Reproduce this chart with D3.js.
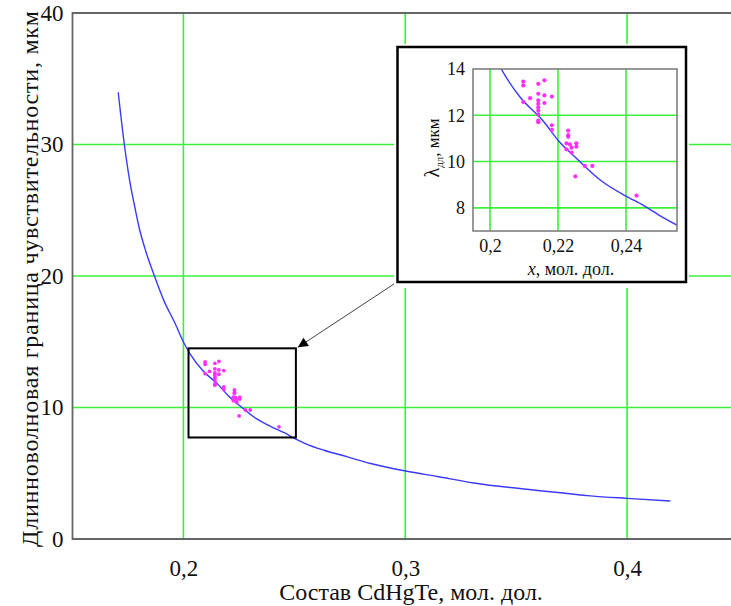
<!DOCTYPE html>
<html>
<head>
<meta charset="utf-8">
<script src="https://cdn.jsdelivr.net/npm/d3@7"></script>
<style>
  body { margin: 0; background: #fff; }
  svg { display: block; }
  text { font-family: "Liberation Serif", "Times New Roman", serif; fill: #111; }
</style>
</head>
<body>
<svg id="chart" width="731" height="606"></svg>
<script>
// curve: x (mole fraction) -> cut-off wavelength, um
const curveX = [0.1706, 0.1734, 0.1756, 0.1779, 0.1801, 0.1831, 0.1869, 0.1914, 0.1959, 0.2007,
  0.2032, 0.2087, 0.2157, 0.2202, 0.2257, 0.2327, 0.2397, 0.2452, 0.2507, 0.2552,
  0.2634, 0.2739, 0.2844, 0.3002, 0.3145, 0.3309, 0.3610, 0.3835, 0.4000, 0.4195];
const curveY = [33.97, 29.96, 27.43, 25.4, 23.63, 21.85, 20.02, 18.05, 16.52, 14.75,
  14.03, 12.81, 11.74, 10.89, 10.1, 9.17, 8.53, 8.1, 7.6, 7.24,
  6.75, 6.25, 5.74, 5.17, 4.75, 4.26, 3.67, 3.28, 3.09, 2.89];

// measured samples
const sampleX = [0.2098, 0.2098, 0.2142, 0.2160, 0.2142, 0.2160, 0.2118, 0.2182, 0.2098, 0.2142,
  0.2142, 0.2160, 0.2142, 0.2142, 0.2142, 0.2142, 0.2142, 0.2182, 0.2182, 0.2230,
  0.2230, 0.2230, 0.2225, 0.2235, 0.2254, 0.2254, 0.2240, 0.2225, 0.2240, 0.2279,
  0.2301, 0.2251, 0.2431];
const sampleY = [13.46, 13.29, 13.36, 13.51, 12.93, 12.86, 12.74, 12.81, 12.57, 12.64,
  12.49, 12.53, 12.34, 12.2, 12.03, 11.77, 11.7, 11.57, 11.37, 11.34,
  11.14, 11.07, 10.79, 10.74, 10.79, 10.64, 10.6, 10.53, 10.39, 9.81,
  9.81, 9.36, 8.53];

const mainXTicks = [0.2, 0.3, 0.4];
const mainYTicks = [0, 10, 20, 30, 40];
const insetXTicks = [0.2, 0.22, 0.24];
const insetYTicks = [8, 10, 12, 14];

// zoom box drawn on the main plot, in data units
const zoomBox = {x0: 0.2023, x1: 0.2507, y0: 7.72, y1: 14.5};

const curve = curveX.map((x, i) => ({x, y: curveY[i]}));
const samples = sampleX.map((x, i) => ({x, y: sampleY[i]}));

const serif = '"Liberation Serif", "Times New Roman", serif';
const comma = d => String(d).replace(".", ",");
const grid = "#3cf03c";
const lineColor = "#3a3aff";
const dotColor = "#ff30ff";

const svg = d3.select("#chart");

// ---------- main plot ----------
const x = d3.scaleLinear().domain([0.15, 0.45]).range([72.5, 738]);
const y = d3.scaleLinear().domain([0, 40]).range([539, 13]);

const main = svg.append("g");

main.append("g")
  .selectAll("line")
  .data(mainXTicks)
  .join("line")
    .attr("x1", d => x(d)).attr("x2", d => x(d))
    .attr("y1", y(0)).attr("y2", y(40))
    .attr("stroke", grid).attr("stroke-width", 1.6);

main.append("g")
  .selectAll("line")
  .data(mainYTicks.filter(d => d > 0 && d < 40))
  .join("line")
    .attr("x1", x(0.15)).attr("x2", x(0.45))
    .attr("y1", d => y(d)).attr("y2", d => y(d))
    .attr("stroke", grid).attr("stroke-width", 1.6);

// frame
main.append("path")
  .attr("d", `M${x(0.45)},${y(40)}H${x(0.15)}V${y(0)}H${x(0.45)}`)
  .attr("fill", "none").attr("stroke", "#666").attr("stroke-width", 1.8);

const line = d3.line().x(d => x(d.x)).y(d => y(d.y)).curve(d3.curveMonotoneX);

main.append("path")
  .datum(curve)
  .attr("d", line)
  .attr("fill", "none").attr("stroke", lineColor).attr("stroke-width", 1.4);

main.append("g")
  .selectAll("circle")
  .data(samples)
  .join("circle")
    .attr("cx", d => x(d.x)).attr("cy", d => y(d.y))
    .attr("r", 1.9).attr("fill", dotColor);

main.append("rect")
  .attr("x", x(zoomBox.x0)).attr("y", y(zoomBox.y1))
  .attr("width", x(zoomBox.x1) - x(zoomBox.x0))
  .attr("height", y(zoomBox.y0) - y(zoomBox.y1))
  .attr("fill", "none").attr("stroke", "#000").attr("stroke-width", 2);

// axes (labels only)
const xAxis = main.append("g")
  .attr("transform", `translate(0,${y(0)})`)
  .call(d3.axisBottom(x).tickValues(mainXTicks).tickSize(0).tickPadding(21).tickFormat(comma));
const yAxis = main.append("g")
  .attr("transform", `translate(${x(0.15)},0)`)
  .call(d3.axisLeft(y).tickValues(mainYTicks).tickSize(0).tickPadding(9).tickFormat(d3.format("d")));
[xAxis, yAxis].forEach(a => {
  a.select(".domain").remove();
  a.attr("font-family", null);
  a.selectAll("text").style("font-family", serif).style("font-size", "23px").style("fill", "#111");
});

main.append("text")
  .attr("x", 411).attr("y", 600)
  .attr("text-anchor", "middle")
  .style("font-size", "24px")
  .text("Состав CdHgTe, мол. дол.");

main.append("text")
  .attr("transform", "translate(38,279) rotate(-90)")
  .attr("text-anchor", "middle")
  .attr("textLength", 536)
  .style("font-size", "24px")
  .text("Длинноволновая граница чувствительности, мкм");

// ---------- inset ----------
const ix = d3.scaleLinear().domain([0.195, 0.255]).range([473, 677]);
const iy = d3.scaleLinear().domain([7, 14]).range([231, 69]);

const inset = svg.append("g");

// arrow from inset to zoom box
svg.append("defs").append("marker")
  .attr("id", "head").attr("viewBox", "0 0 10 10")
  .attr("refX", 10).attr("refY", 5)
  .attr("markerWidth", 12).attr("markerHeight", 10)
  .attr("markerUnits", "userSpaceOnUse")
  .attr("orient", "auto")
  .append("path").attr("d", "M0,0L10,5L0,10Z").attr("fill", "#000");

inset.append("line")
  .attr("x1", 397).attr("y1", 282)
  .attr("x2", x(zoomBox.x1) + 2).attr("y2", y(zoomBox.y1) - 1)
  .attr("stroke", "#444").attr("stroke-width", 1)
  .attr("marker-end", "url(#head)");

inset.append("rect")
  .attr("x", 394).attr("y", 44).attr("width", 295).attr("height", 244)
  .attr("fill", "#fff");
inset.append("rect")
  .attr("x", 397.5).attr("y", 47).attr("width", 288.5).attr("height", 235)
  .attr("fill", "none").attr("stroke", "#000").attr("stroke-width", 2.5);

inset.append("g")
  .selectAll("line")
  .data(insetXTicks)
  .join("line")
    .attr("x1", d => ix(d)).attr("x2", d => ix(d))
    .attr("y1", iy(7)).attr("y2", iy(14))
    .attr("stroke", grid).attr("stroke-width", 1.6);

inset.append("g")
  .selectAll("line")
  .data(insetYTicks.filter(d => d < 14))
  .join("line")
    .attr("x1", ix(0.195)).attr("x2", ix(0.255))
    .attr("y1", d => iy(d)).attr("y2", d => iy(d))
    .attr("stroke", grid).attr("stroke-width", 1.6);

svg.append("clipPath").attr("id", "insetClip")
  .append("rect")
  .attr("x", ix(0.195)).attr("y", iy(14))
  .attr("width", ix(0.255) - ix(0.195)).attr("height", iy(7) - iy(14));

const iline = d3.line().x(d => ix(d.x)).y(d => iy(d.y)).curve(d3.curveMonotoneX);

inset.append("path")
  .datum(curve)
  .attr("d", iline)
  .attr("clip-path", "url(#insetClip)")
  .attr("fill", "none").attr("stroke", lineColor).attr("stroke-width", 1.4);

inset.append("g")
  .selectAll("circle")
  .data(samples)
  .join("circle")
    .attr("cx", d => ix(d.x)).attr("cy", d => iy(d.y))
    .attr("r", 2.1).attr("fill", dotColor);

inset.append("rect")
  .attr("x", ix(0.195)).attr("y", iy(14))
  .attr("width", ix(0.255) - ix(0.195)).attr("height", iy(7) - iy(14))
  .attr("fill", "none").attr("stroke", "#777").attr("stroke-width", 1.5);

const ixAxis = inset.append("g")
  .attr("transform", `translate(0,${iy(7)})`)
  .call(d3.axisBottom(ix).tickValues(insetXTicks).tickSize(0).tickPadding(8).tickFormat(comma));
const iyAxis = inset.append("g")
  .attr("transform", `translate(${ix(0.195)},0)`)
  .call(d3.axisLeft(iy).tickValues(insetYTicks).tickSize(0).tickPadding(8).tickFormat(d3.format("d")));
[ixAxis, iyAxis].forEach(a => {
  a.select(".domain").remove();
  a.attr("font-family", null);
  a.selectAll("text").style("font-family", serif).style("font-size", "18px").style("fill", "#111");
});

const ixt = inset.append("text")
  .attr("x", 571).attr("y", 275)
  .attr("text-anchor", "middle").style("font-size", "18px");
ixt.append("tspan").style("font-style", "italic").text("x");
ixt.append("tspan").text(", мол. дол.");

const iyt = inset.append("text")
  .attr("transform", "translate(439,148) rotate(-90)")
  .attr("text-anchor", "middle").style("font-size", "17px");
iyt.append("tspan").style("font-size", "20px").text("λ");
iyt.append("tspan").style("font-size", "11px").attr("dy", 4).text("дл");
iyt.append("tspan").attr("dy", -4).text(", мкм");
</script>
</body>
</html>
